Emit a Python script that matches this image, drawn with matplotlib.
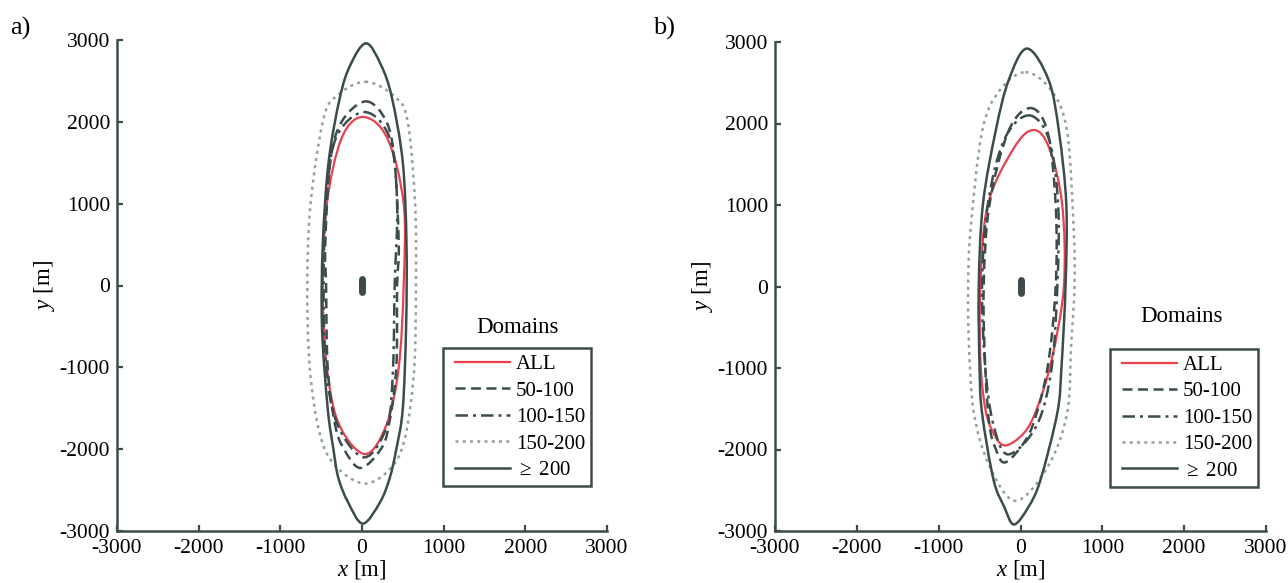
import numpy as np
import matplotlib
matplotlib.use("Agg")
import matplotlib.pyplot as plt
from matplotlib.path import Path
from matplotlib.patches import PathPatch
from matplotlib.lines import Line2D
from matplotlib.legend_handler import HandlerLine2D

plt.rcParams['font.family'] = ['Liberation Serif', 'DejaVu Serif']
plt.rcParams['mathtext.fontset'] = 'custom'
plt.rcParams['mathtext.rm'] = 'Liberation Serif'
plt.rcParams['mathtext.it'] = 'Liberation Serif:italic'
plt.rcParams['axes.unicode_minus'] = False

# domain contours: top point, [(y, x_left, x_right) ...], bottom point
labels = ["ALL", "50-100", "100-150", "150-200", r"$\geq$ 200"]

a_all = dict(top=(10, 2060), bottom=(40, -2060),
             levels=[(1800, -250, 310), (1000, -430, 510), (0, -480, 510),
                     (-1000, -430, 450), (-1700, -280, 300)])
a_50 = dict(top=(50, 2250), bottom=(-20, -2230),
            levels=[(2000, -250, 300), (1500, -390, 400), (500, -450, 450), (0, -440, 430),
                    (-1000, -420, 420), (-1700, -330, 330), (-2000, -220, 230)])
a_100 = dict(top=(30, 2120), bottom=(30, -2100),
             levels=[(1800, -320, 340), (1000, -440, 430), (0, -470, 400),
                     (-1000, -440, 380), (-1700, -300, 310)])
a_150 = dict(top=(40, 2490), bottom=(40, -2420),
             levels=[(2300, -330, 410), (2000, -480, 560), (1000, -630, 650), (0, -670, 660),
                     (-1000, -640, 640), (-1800, -520, 540), (-2200, -330, 380)])
a_200 = dict(top=(50, 2960), bottom=(10, -2910),
             levels=[(2700, -140, 230), (2300, -270, 365), (1500, -410, 500), (500, -480, 545),
                     (-500, -490, 540), (-1500, -420, 500), (-2000, -350, 420),
                     (-2350, -290, 340), (-2650, -170, 220)])

b_all = dict(top=(160, 1920), bottom=(-190, -1950),
             levels=[(1700, -80, 350), (1000, -400, 510), (0, -490, 530), (-900, -490, 380),
                     (-1500, -430, 200), (-1800, -330, 40)])
b_50 = dict(top=(120, 2190), bottom=(-200, -2160),
            levels=[(1900, -150, 330), (1000, -380, 430), (0, -450, 430), (-1000, -430, 330),
                    (-1700, -380, 150), (-2000, -300, -20)])
b_100 = dict(top=(100, 2100), bottom=(-150, -2060),
             levels=[(1800, -200, 350), (1000, -400, 460), (0, -470, 450), (-1000, -430, 380),
                     (-1700, -330, 200)])
b_150 = dict(top=(60, 2630), bottom=(-60, -2630),
             levels=[(2400, -260, 380), (1900, -470, 570), (700, -610, 650), (0, -640, 660),
                     (-700, -630, 620), (-1550, -570, 570), (-2200, -380, 340)])
b_200 = dict(top=(80, 2920), bottom=(-80, -2920),
             levels=[(2530, -145, 345), (1900, -305, 470), (1000, -460, 560), (0, -510, 550),
                     (-1000, -500, 500), (-1550, -470, 450), (-2370, -330, 245), (-2700, -200, 100)])

ship_x = [0, 0]
ship_y = [-80, 80]

dark = '#3b4c4c'
styles = [dict(color='#e8404e', ls='-', lw=1.6),
          dict(color=dark, ls=(0, (4, 2.2)), lw=1.8),
          dict(color=dark, ls=(0, (5, 2, 1.2, 2)), lw=1.8),
          dict(color='#959f9f', ls=(0, (1.2, 1.7)), lw=1.8),
          dict(color=dark, ls='-', lw=1.8)]


def outline(d):
    pts = [d['top']] + [(l[2], l[0]) for l in d['levels']] + [d['bottom']] + \
          [(l[1], l[0]) for l in d['levels'][::-1]]
    return np.array(pts, dtype=float)


def smooth_path(pts):
    # closed curve through the read points, drawn as cubic bezier segments
    n = len(pts)
    verts = [pts[0]]
    codes = [Path.MOVETO]
    for i in range(n):
        p0, p1, p2, p3 = pts[i - 1], pts[i], pts[(i + 1) % n], pts[(i + 2) % n]
        verts += [p1 + (p2 - p0) / 6, p2 - (p3 - p1) / 6, p2]
        codes += [Path.CURVE4] * 3
    return Path(verts, codes)


fig = plt.figure(figsize=(12.88, 5.83), dpi=100)
ax_a = fig.add_axes([117 / 1288, 52 / 583, 490 / 1288, 491 / 583])
ax_b = fig.add_axes([775 / 1288, 52 / 583, 491 / 1288, 489 / 583])

panels = [(ax_a, [a_all, a_50, a_100, a_150, a_200], 'a)', 10, 0.665, (0.818, 0.403)),
          (ax_b, [b_all, b_50, b_100, b_150, b_200], 'b)', 653, 0.682, (0.829, 0.428))]

for ax, curves, tag, tx, lx, dpos in panels:
    handles = []
    for d, st, lab in zip(curves, styles, labels):
        ax.add_patch(PathPatch(smooth_path(outline(d)), fill=False, edgecolor=st['color'],
                               linestyle=st['ls'], linewidth=st['lw']))
        handles.append(Line2D([], [], label=lab, **st))
    ax.plot(ship_x, ship_y, color=dark, lw=5, solid_capstyle='round')
    ax.set_xlim(-3000, 3000)
    ax.set_ylim(-3000, 3000)
    ax.set_xticks(np.arange(-3000, 3001, 1000))
    ax.set_yticks(np.arange(-3000, 3001, 1000))
    for s in ['top', 'right']:
        ax.spines[s].set_visible(False)
    for s in ['left', 'bottom']:
        ax.spines[s].set_color(dark)
        ax.spines[s].set_linewidth(1.8)
    ax.tick_params(direction='in', length=4, width=1.6, color=dark, labelsize=15.5)
    ax.tick_params(axis='x', pad=5.5)
    ax.tick_params(axis='y', pad=5)
    ax.set_xlabel('$x$ [m]', fontsize=16.5)
    ax.xaxis.set_label_coords(0.5, -0.056)
    ax.set_ylabel('$y$ [m]', fontsize=16.5, labelpad=2)
    leg = ax.legend(handles=handles, loc='upper left', bbox_to_anchor=(lx, 0.372),
                    fontsize=15, frameon=True, fancybox=False, framealpha=1,
                    edgecolor=dark, handlelength=2.9, handletextpad=0.3,
                    labelspacing=0.33, borderpad=0.3, borderaxespad=0,
                    handler_map={Line2D: HandlerLine2D(xpad=0.3)})
    leg.get_frame().set_linewidth(1.8)
    ax.text(dpos[0], dpos[1], 'Domains', transform=ax.transAxes, ha='center',
            va='baseline', fontsize=16.5)
    fig.text(tx / 1288, 1 - 35 / 583, tag, fontsize=19, ha='left', va='baseline')

fig.savefig('out.png', dpi=100)
